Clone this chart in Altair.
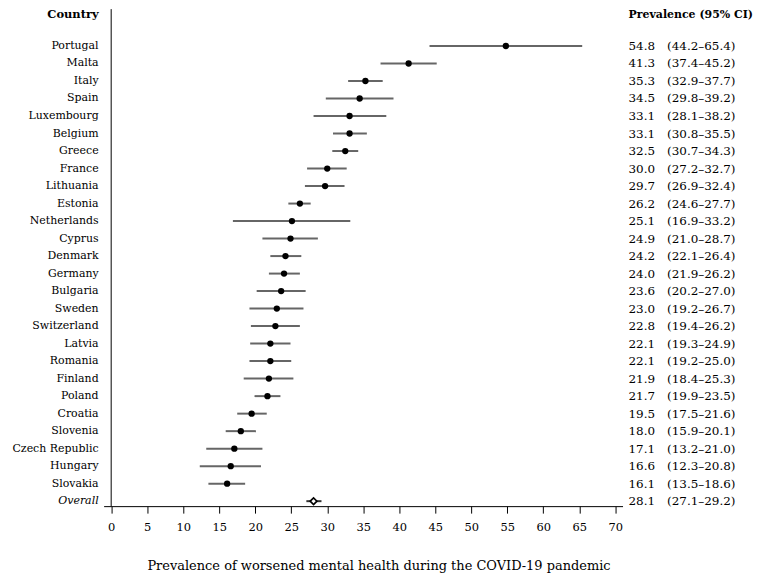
import altair as alt
import pandas as pd

countries = ["Portugal", "Malta", "Italy", "Spain", "Luxembourg", "Belgium", "Greece",
             "France", "Lithuania", "Estonia", "Netherlands", "Cyprus", "Denmark",
             "Germany", "Bulgaria", "Sweden", "Switzerland", "Latvia", "Romania",
             "Finland", "Poland", "Croatia", "Slovenia", "Czech Republic", "Hungary",
             "Slovakia", "Overall"]
est = [54.8, 41.3, 35.3, 34.5, 33.1, 33.1, 32.5, 30.0, 29.7, 26.2, 25.1, 24.9, 24.2,
       24.0, 23.6, 23.0, 22.8, 22.1, 22.1, 21.9, 21.7, 19.5, 18.0, 17.1, 16.6, 16.1, 28.1]
lo = [44.2, 37.4, 32.9, 29.8, 28.1, 30.8, 30.7, 27.2, 26.9, 24.6, 16.9, 21.0, 22.1,
      21.9, 20.2, 19.2, 19.4, 19.3, 19.2, 18.4, 19.9, 17.5, 15.9, 13.2, 12.3, 13.5, 27.1]
hi = [65.4, 45.2, 37.7, 39.2, 38.2, 35.5, 34.3, 32.7, 32.4, 27.7, 33.2, 28.7, 26.4,
      26.2, 27.0, 26.7, 26.2, 24.9, 25.0, 25.3, 23.5, 21.6, 20.1, 21.0, 20.8, 18.6, 29.2]
x_ticks = list(range(0, 75, 5))

FONT = "DejaVu Serif"

df = pd.DataFrame({"country": countries, "est": est, "lo": lo, "hi": hi})
df["row"] = range(len(df))
df["label"] = [f"{e:.1f}\u2003({l:.1f}\u2013{h:.1f})" for e, l, h in zip(est, lo, hi)]
df["overall"] = df["country"] == "Overall"

xs = alt.Scale(domain=[-1.05, 71.0], nice=False, zero=False)
ys = alt.Scale(domain=[-2.105, 26.284], reverse=True, nice=False, zero=False)

xaxis = alt.Axis(values=x_ticks, title="Prevalence of worsened mental health during the COVID-19 pandemic",
                 grid=False, domainColor="black", tickColor="black", tickSize=7,
                 labelFont=FONT, labelFontSize=11.5, labelColor="black", labelPadding=8,
                 labelOverlap=False, labelFlush=False,
                 titleFont=FONT, titleFontSize=13, titleFontWeight="normal", titleColor="black",
                 titlePadding=27, titleX=276, format="d")
Y = alt.Y("row:Q", scale=ys, axis=None)

base = alt.Chart(df)
ci = base.transform_filter("!datum.overall").mark_rule(color="#666666", strokeWidth=2).encode(
    x=alt.X("lo:Q", scale=xs, axis=xaxis), x2="hi:Q", y=Y)
ci_o = base.transform_filter("datum.overall").mark_rule(color="#333333", strokeWidth=2).encode(
    x=alt.X("lo:Q", scale=xs, axis=xaxis), x2="hi:Q", y=Y)
pts = base.transform_filter("!datum.overall").mark_point(filled=True, color="black", size=40, opacity=1).encode(
    x=alt.X("est:Q", scale=xs, axis=xaxis), y=Y)
dia = base.transform_filter("datum.overall").mark_point(shape="diamond", filled=True, fill="white",
                                                        stroke="black", strokeWidth=1.6, size=45, opacity=1).encode(
    x=alt.X("est:Q", scale=xs, axis=xaxis), y=Y)

vline = alt.Chart(pd.DataFrame({"v": [0]})).mark_rule(color="black", strokeWidth=1).encode(
    x=alt.X("v:Q", scale=xs, axis=xaxis), y=alt.value(0), y2=alt.value(499))

names = base.transform_filter("!datum.overall").mark_text(align="right", baseline="middle", font=FONT,
                                                          fontSize=11, color="black").encode(
    x=alt.value(-5), y=Y, text="country:N")
name_o = base.transform_filter("datum.overall").mark_text(align="right", baseline="middle", font=FONT,
                                                          fontSize=11, fontStyle="italic", color="black").encode(
    x=alt.value(-5), y=Y, text="country:N")
vals = base.mark_text(align="left", baseline="middle", font=FONT, fontSize=12, color="black").encode(
    x=alt.value(527), y=Y, text="label:N")

hdr = alt.Chart(pd.DataFrame({"t": ["Country"]})).mark_text(
    align="right", baseline="middle", font=FONT, fontSize=11.5, fontWeight="bold", color="black").encode(
    x=alt.value(-5), y=alt.value(6), text="t:N")
hdr2 = alt.Chart(pd.DataFrame({"t": ["Prevalence (95% CI)"]})).mark_text(
    align="left", baseline="middle", font=FONT, fontSize=11, fontWeight="bold", color="black").encode(
    x=alt.value(527), y=alt.value(6), text="t:N")

chart = alt.layer(ci, ci_o, vline, pts, dia, names, name_o, vals, hdr, hdr2).properties(
    width=521, height=499,
    padding={"left": 96, "top": 0, "right": 134, "bottom": 69},
    autosize=alt.AutoSizeParams(type="none"),
).configure_view(stroke=None)

chart.save("out.html", embed_options={"renderer": "svg", "actions": False})
